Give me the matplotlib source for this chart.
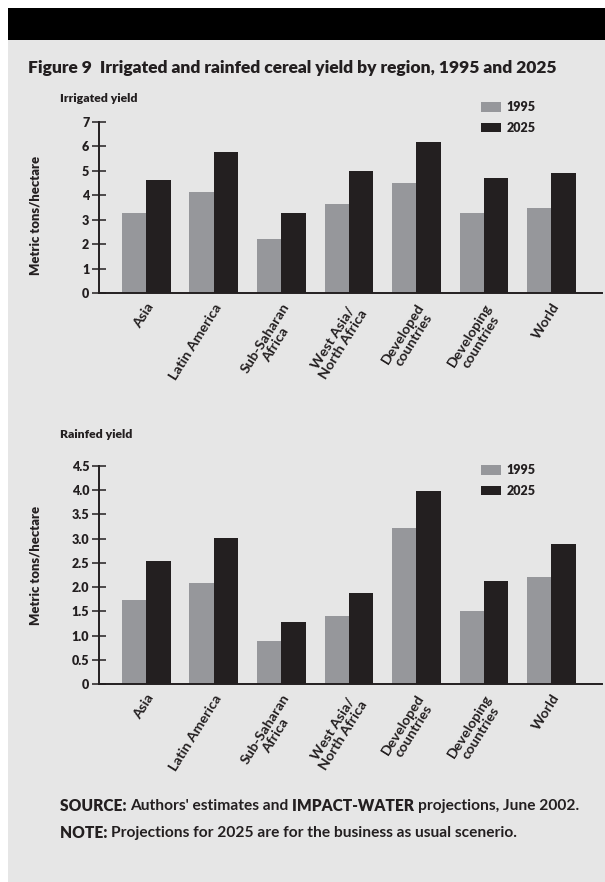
import matplotlib
matplotlib.use("Agg")
import matplotlib.pyplot as plt
from matplotlib.patches import Rectangle, Patch
import numpy as np

# ---------------- data ----------------
regions = ["Asia", "Latin America", "Sub-Saharan\nAfrica", "West Asia/\nNorth Africa",
           "Developed\ncountries", "Developing\ncountries", "World"]
series_names = ["1995", "2025"]
irrigated_1995 = [3.27, 4.13, 2.21, 3.63, 4.50, 3.27, 3.50]
irrigated_2025 = [4.63, 5.77, 3.27, 4.99, 6.19, 4.69, 4.90]
rainfed_1995 = [1.74, 2.09, 0.88, 1.41, 3.21, 1.51, 2.20]
rainfed_2025 = [2.53, 3.02, 1.27, 1.87, 3.99, 2.13, 2.88]
irrigated_ticks = [0, 1, 2, 3, 4, 5, 6, 7]
irrigated_ticklabels = ["0", "1", "2", "3", "4", "5", "6", "7"]
rainfed_ticks = [0, 0.5, 1.0, 1.5, 2.0, 2.5, 3.0, 3.5, 4.0, 4.5]
rainfed_ticklabels = ["0", "0.5", "1.0", "1.5", "2.0", "2.5", "3.0", "3.5", "4.0", "4.5"]

# ---------------- style ----------------
FONT = ["Lato", "DejaVu Sans"]
plt.rcParams["font.family"] = FONT
GRAY = "#96979b"
DARK = "#231f20"
PANEL = "#e6e6e6"

W, H = 605, 882
fig = plt.figure(figsize=(W / 100, H / 100), dpi=100)
fig.patch.set_facecolor("white")


def fx(px):
    return px / W


def fy(py):
    return 1 - py / H


# panel and header bar
fig.patches.append(Rectangle((fx(8), 0), 1 - fx(8), fy(40), transform=fig.transFigure,
                             facecolor=PANEL, edgecolor="none", zorder=-10))
fig.patches.append(Rectangle((fx(8), fy(40)), 1 - fx(8), fy(8) - fy(40), transform=fig.transFigure,
                             facecolor="black", edgecolor="none", zorder=-9))

fig.text(fx(28), fy(68), "Figure 9  Irrigated and rainfed cereal yield by region, 1995 and 2025",
         fontsize=12.5, fontweight="heavy", color=DARK, va="center", ha="left")


def make_panel(top_px, bottom_px, v1995, v2025, ticks, ticklabels, title, title_y, leg_y, ylab_y):
    ax = fig.add_axes([fx(99), fy(bottom_px), fx(602) - fx(99), fy(top_px) - fy(bottom_px)])
    ax.set_facecolor("none")
    x = np.arange(len(regions))
    bw = 0.36
    ax.bar(x - bw / 2, v1995, width=bw, color=GRAY, edgecolor="none", zorder=2)
    ax.bar(x + bw / 2, v2025, width=bw, color=DARK, edgecolor="none", zorder=2)
    ax.set_xlim(-0.70, 6.75)
    ax.set_ylim(0, ticks[-1])
    for s in ["top", "right"]:
        ax.spines[s].set_visible(False)
    for s in ["left", "bottom"]:
        ax.spines[s].set_linewidth(1.4)
        ax.spines[s].set_color(DARK)
    ax.set_yticks(ticks)
    ax.set_yticklabels(ticklabels, fontsize=9, fontweight="heavy", color=DARK)
    ax.tick_params(axis="y", direction="inout", length=10, width=1.1, color=DARK, pad=2)
    ax.set_xticks(x)
    ax.set_xticklabels(regions, rotation=58, ha="right", va="top", rotation_mode="anchor",
                       fontsize=10.2, fontweight="bold", color=DARK, multialignment="center",
                       linespacing=1.05)
    ax.tick_params(axis="x", length=0, pad=6)
    fig.text(fx(35), fy(ylab_y), "Metric tons/hectare", rotation=90, fontsize=9.4,
             fontweight="heavy", color=DARK, ha="center", va="center")
    fig.text(fx(60), fy(title_y), title, fontsize=8.8, fontweight="heavy", color=DARK,
             ha="left", va="center")
    handles = [Patch(facecolor=GRAY, edgecolor="none"), Patch(facecolor=DARK, edgecolor="none")]
    ax.legend(handles, series_names, loc="upper left", bbox_to_anchor=(fx(470), fy(leg_y)),
              bbox_transform=fig.transFigure, frameon=False, handlelength=1.6, handleheight=0.8,
              handletextpad=0.4, labelspacing=0.7, prop={"family": FONT, "weight": "heavy", "size": 9},
              labelcolor=DARK)
    return ax


make_panel(122, 293, irrigated_1995, irrigated_2025, irrigated_ticks, irrigated_ticklabels,
           "Irrigated yield", 98, 90, 215)
make_panel(466, 684, rainfed_1995, rainfed_2025, rainfed_ticks, rainfed_ticklabels,
           "Rainfed yield", 434, 453, 565)

# source / note lines with mixed weights
fig.canvas.draw()
renderer = fig.canvas.get_renderer()


def mixed_line(y_px, pieces):
    xpos = fx(60)
    for txt, wt in pieces:
        t = fig.text(xpos, fy(y_px), txt, fontsize=11.2, fontweight=wt, color=DARK,
                     ha="left", va="center")
        bb = t.get_window_extent(renderer=renderer)
        xpos = xpos + bb.width / W


mixed_line(806, [("SOURCE: ", "heavy"), ("Authors' estimates and ", "bold"),
                 ("IMPACT-WATER ", "heavy"), ("projections, June 2002.", "bold")])
mixed_line(833, [("NOTE: ", "heavy"), ("Projections for 2025 are for the business as usual scenerio.", "bold")])

fig.savefig("out.png", dpi=100, facecolor=fig.get_facecolor())
